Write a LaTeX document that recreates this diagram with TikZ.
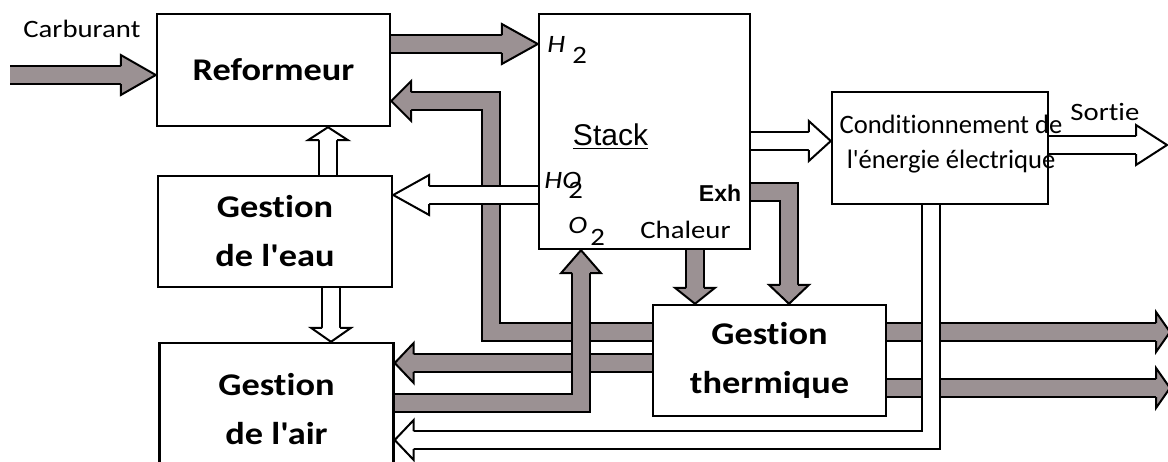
\documentclass[tikz,border=0pt]{standalone}
\usepackage{fontspec}
\setmainfont{Carlito}[FakeStretch=1.15, Ligatures={TeXOff,NoCommon}]
\newfontfamily\plainfont{Carlito}[Ligatures=NoCommon]
\newfontfamily\helvfont{Liberation Sans}
\usetikzlibrary{calc}
\definecolor{dotgray}{RGB}{155,145,147}
\tikzset{
  box/.style={draw, line width=1.2pt, fill=white, align=center, inner sep=0pt,
    font=\bfseries\fontsize{15.8}{24.5}\selectfont},
  flow/.style={draw=black, line width=1pt, double=#1, double distance=8pt},
  flow/.default=dotgray,
  lbl/.style={anchor=base west, inner sep=0pt},
  pics/fathead/.style 2 args={code={
    \fill[#1] (0,0) -- (-#2,20) -- (-#2,-20) -- cycle;
    \draw[line width=1pt, line join=miter] (-#2,9) -- (-#2,20) -- (0,0) -- (-#2,-20) -- (-#2,-9);
  }},
}
\begin{document}
\begin{tikzpicture}[x=0.5pt, y=-0.5pt, every node/.style={font=\fontsize{12.5}{15}\selectfont}]
  \useasboundingbox (0,0) rectangle (1168,461);
  \node[box, minimum width=116.5pt, minimum height=56pt] (ref) at (273.5,70) {Reformeur};
  \node[box, minimum width=117pt, minimum height=55.5pt] (eau) at (275,231.5) {Gestion\\de l'eau};
  \node[box, minimum width=117pt, minimum height=66pt] (air) at (276.5,409) {Gestion\\de l'air};
  \node[box, minimum width=105.5pt, minimum height=117.5pt] (stack) at (644.5,131.5) {};
  \node[box, minimum width=108pt, minimum height=56pt] (cond) at (940,148) {};
  \node[box, minimum width=116.5pt, minimum height=55.5pt] (therm) at (769.5,360.5) {Gestion\\thermique};

  \coordinate (fuel) at (10,75);
  \draw[flow, shorten >=11pt] (fuel) -- (ref.west |- fuel);
  \pic at (ref.west |- fuel) {fathead={dotgray}{35}};
  \draw[flow, shorten >=11pt] (ref.east |- 0,44) -- (stack.west |- 0,44);
  \pic at (stack.west |- 0,44) {fathead={dotgray}{36}};
  \draw[flow, shorten >=6pt] (therm.west |- 0,332) -| (491,101) -- (ref.east |- 0,101);
  \pic[rotate=180] at (ref.east |- 0,101) {fathead={dotgray}{20}};
  \draw[flow, shorten >=6pt] (therm.west |- 0,363) -- (air.east |- 0,363);
  \pic[rotate=180] at (air.east |- 0,363) {fathead={dotgray}{19}};
  \draw[flow, shorten >=7pt] (air.east |- 0,403) -| (581,0 |- stack.south);
  \pic[rotate=90] at (581,0 |- stack.south) {fathead={dotgray}{23}};
  \draw[flow=white, shorten >=11pt] (stack.west |- 0,195) -- (eau.east |- 0,195);
  \pic[rotate=180] at (eau.east |- 0,195) {fathead={white}{36}};
  \draw[flow=white, shorten >=4pt] (328,0 |- eau.north) -- (328,0 |- ref.south);
  \pic[rotate=90] at (328,0 |- ref.south) {fathead={white}{13}};
  \draw[flow=white, shorten >=4pt] (331,0 |- eau.south) -- (331,0 |- air.north);
  \pic[rotate=-90] at (331,0 |- air.north) {fathead={white}{14}};
  \draw[flow, shorten >=5pt] (695,0 |- stack.south) -- (695,0 |- therm.north);
  \pic[rotate=-90] at (695,0 |- therm.north) {fathead={dotgray}{16}};
  \draw[flow, shorten >=6pt] (stack.east |- 0,192) -| (789,0 |- therm.north);
  \pic[rotate=-90] at (789,0 |- therm.north) {fathead={dotgray}{19}};
  \draw[flow=white, shorten >=7pt] (stack.east |- 0,141) -- (cond.west |- 0,141);
  \pic at (cond.west |- 0,141) {fathead={white}{22}};
  \coordinate (out) at (1167,145);
  \draw[flow=white, shorten >=10pt] (cond.east |- out) -- (out);
  \pic at (out) {fathead={white}{31}};
  \coordinate (heat1) at (1170,332);
  \coordinate (heat2) at (1170,388);
  \draw[flow, shorten >=5pt] (therm.east |- heat1) -- (heat1);
  \pic at (heat1) {fathead={dotgray}{14}};
  \draw[flow, shorten >=5pt] (therm.east |- heat2) -- (heat2);
  \pic at (heat2) {fathead={dotgray}{14}};
  \draw[flow=white, shorten >=6pt] (931,0 |- cond.south) |- (air.east |- 0,440);
  \pic[rotate=180] at (air.east |- 0,440) {fathead={white}{19}};

  \node[lbl] (fuellbl) at (23,37) {Carburant};
  \node[lbl] (outlbl) at (1070,120) {Sortie};
  \node[lbl] (heatlbl) at (640,238) {Chaleur};
  \node[align=center, inner sep=0pt, font=\plainfont\fontsize{13.3}{17.5}\selectfont] (condlbl) at (951,144) {Conditionnement de\\l'énergie électrique};
  \node[anchor=base, inner sep=0pt, font=\helvfont\fontsize{15}{18}\selectfont] (stacklbl) at (610.5,145) {\underline{Stack}};
  \node[anchor=base, inner sep=0pt, font=\helvfont\bfseries\fontsize{11.5}{13}\selectfont] (exhlbl) at (720,201) {Exh};
  \node[lbl, font=\itshape\fontsize{12.5}{15}\selectfont] (hlbl) at (547,52) {H};
  \node[lbl] (hsub) at (572,63) {2};
  \node[lbl, font=\itshape\fontsize{12.5}{15}\selectfont] (holbl) at (544,188) {HO};
  \node[lbl] (hosub) at (568,198) {2};
  \node[lbl, font=\itshape\fontsize{12.5}{15}\selectfont] (olbl) at (568,233) {O};
  \node[lbl] (osub) at (590,245) {2};
\end{tikzpicture}
\end{document}
